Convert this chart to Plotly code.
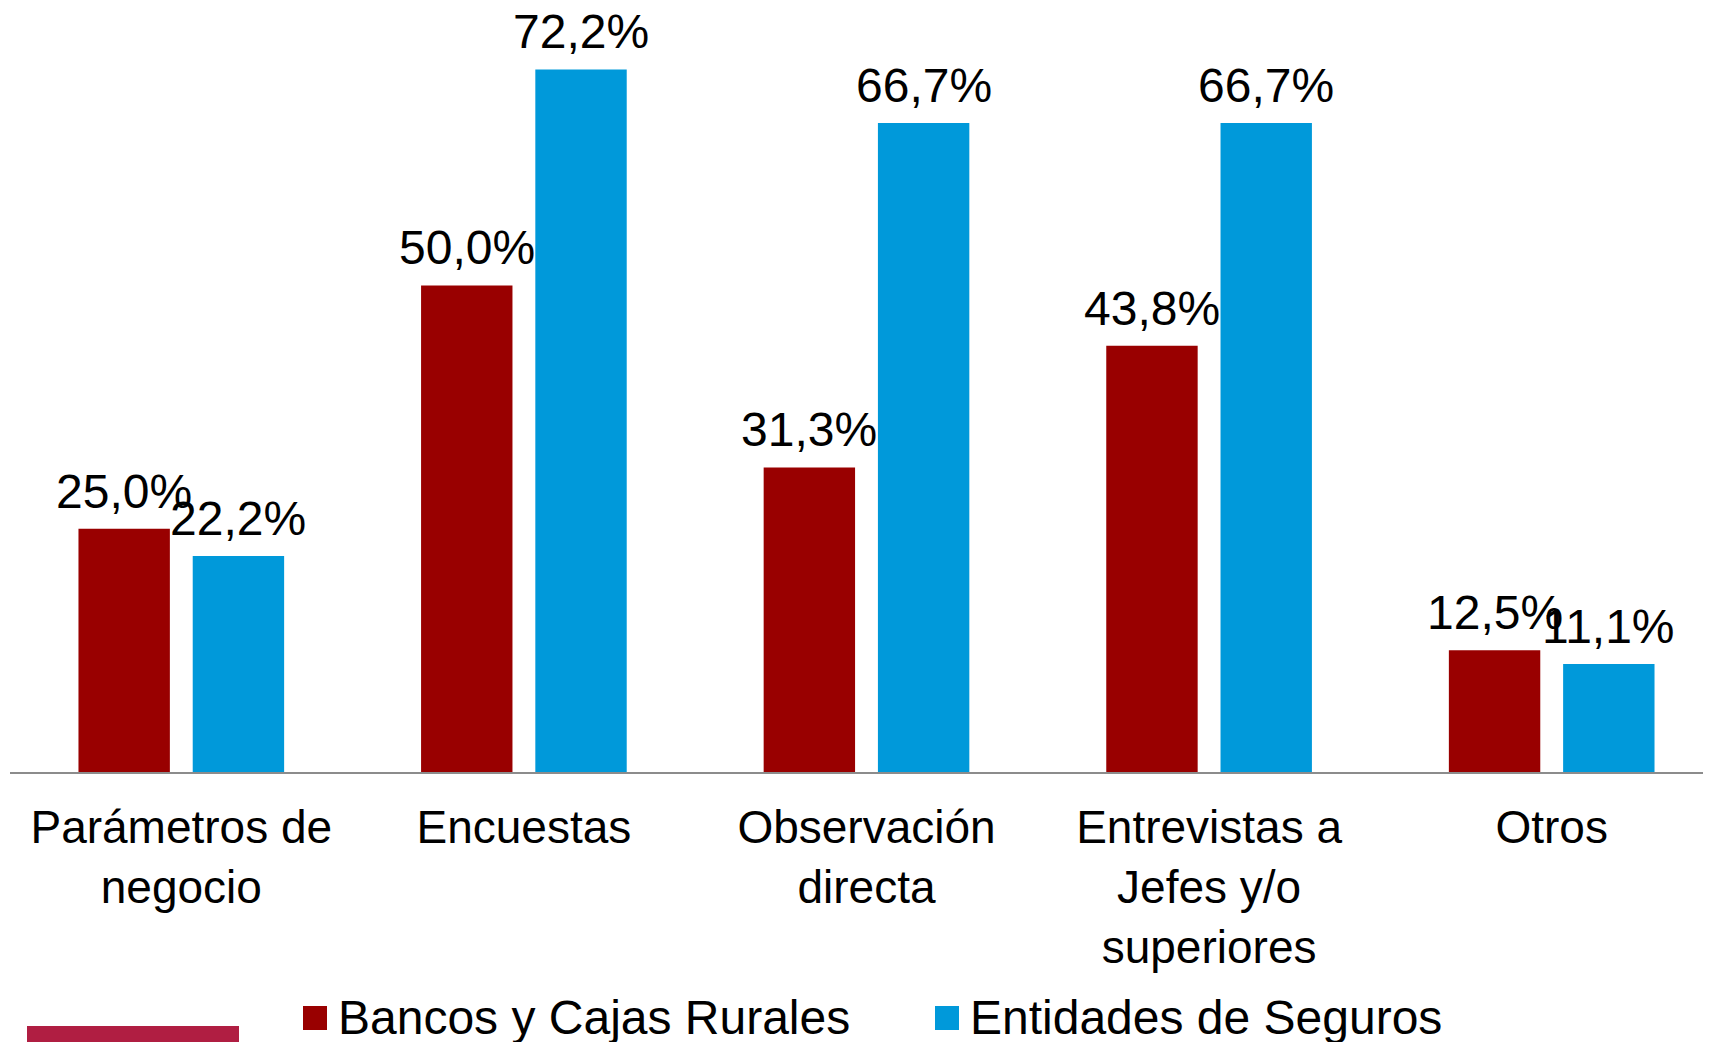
import plotly.graph_objects as go

categories = ["Parámetros de<br>negocio", "Encuestas", "Observación<br>directa",
              "Entrevistas a<br>Jefes y/o<br>superiores", "Otros"]
bancos = [25.0, 50.0, 31.3, 43.8, 12.5]
seguros = [22.2, 72.2, 66.7, 66.7, 11.1]
series_names = ["Bancos y Cajas Rurales", "Entidades de Seguros"]
colors = ["#990000", "#0099DA"]

FONT = "Liberation Sans, Arial, sans-serif"
# page has an 8px body margin; figure coordinates below are page - 8
W, H = 1703, 1042
L, R, T, B = 2, 0, 5, 278
plot_w = W - L - R
plot_h = H - T - B
BARGAP = 0.333

def fmt(v):
    return f"{v:.1f}".replace(".", ",") + "%"

fig = go.Figure()
for name, vals, col in zip(series_names, [bancos, seguros], colors):
    fig.add_trace(go.Bar(
        x=list(range(len(categories))), y=vals, name=name,
        marker=dict(color=col, line=dict(width=0)),
        cliponaxis=False, showlegend=False,
    ))

annotations = []
slot = (1 - BARGAP) / 2
for si, vals in enumerate([bancos, seguros]):
    off = (si - 0.5) * slot
    for i, v in enumerate(vals):
        annotations.append(dict(x=i + off, y=v, xref="x", yref="y", text=fmt(v),
                                showarrow=False, xanchor="center", yanchor="bottom",
                                yshift=10, borderpad=0,
                                font=dict(family=FONT, size=48, color="black")))

def py(page_y):
    return (H - B - (page_y - 8)) / plot_h

def px(page_x):
    return ((page_x - 8) - L) / plot_w

shapes = [
    dict(type="rect", xref="paper", yref="paper", x0=px(27), x1=px(239),
         y0=py(1026), y1=py(1060), fillcolor="#B01E42", line=dict(width=0), layer="above"),
]
leg_x = [303, 935]
for (name, col, lx) in zip(series_names, colors, leg_x):
    shapes.append(dict(type="rect", xref="paper", yref="paper", x0=px(lx), x1=px(lx + 24),
                       y0=py(1006), y1=py(1030), fillcolor=col, line=dict(width=0)))
    annotations.append(dict(xref="paper", yref="paper", x=px(lx + 33), y=py(1017),
                            text=name, showarrow=False, xanchor="left", yanchor="middle",
                            font=dict(family=FONT, size=48, color="black")))

fig.update_layout(
    width=W, height=H,
    margin=dict(l=L, r=R, t=T, b=B, autoexpand=False),
    paper_bgcolor="white", plot_bgcolor="white",
    barmode="group", bargap=BARGAP, bargroupgap=0.2,
    xaxis=dict(range=[-0.5, 4.465], showline=True, linecolor="#8C8C8C", linewidth=2,
               showgrid=False, ticks="outside", ticklen=14, tickcolor="rgba(0,0,0,0)",
               zeroline=False, tickmode="array",
               tickvals=list(range(len(categories))), ticktext=categories,
               tickfont=dict(family=FONT, size=46, color="black")),
    yaxis=dict(range=[0, 78], visible=False, showgrid=False, zeroline=False),
    shapes=shapes, annotations=annotations,
)
fig.write_html("out.html")
